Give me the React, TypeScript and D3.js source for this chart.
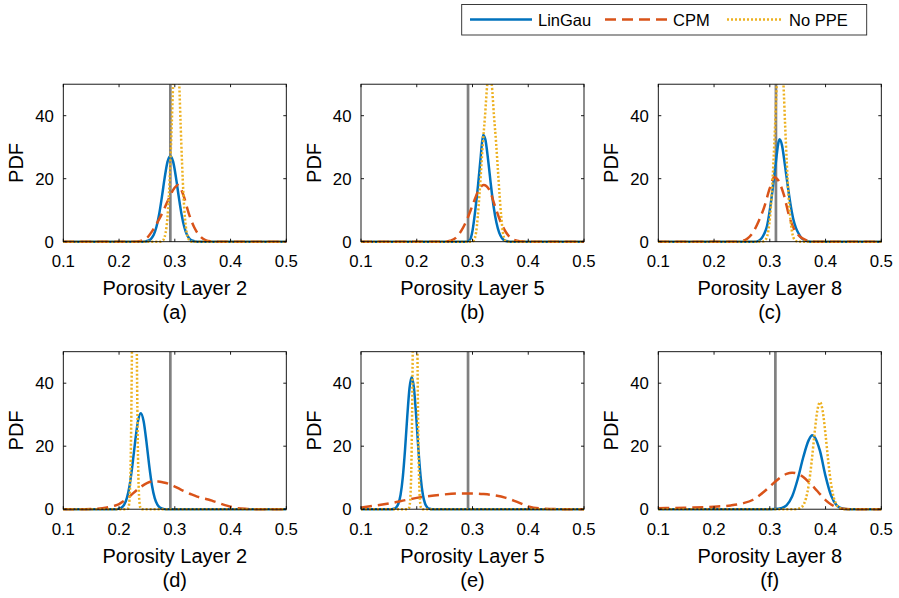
import React from "react";
import * as d3 from "d3";

type Pt = [number, number];

// series names, panel labels, ticks
const seriesNames = ["LinGau", "CPM", "No PPE"];
const seriesColors = ["#0072BD", "#D95319", "#EDB120"];
const panelTags = ["(a)", "(b)", "(c)", "(d)", "(e)", "(f)"];
const layerLabels = [
  "Porosity Layer 2",
  "Porosity Layer 5",
  "Porosity Layer 8",
  "Porosity Layer 2",
  "Porosity Layer 5",
  "Porosity Layer 8",
];
const truthValues = [0.292, 0.292, 0.311, 0.292, 0.292, 0.31];
const xTicks = [0.1, 0.2, 0.3, 0.4, 0.5];
const yTicks = [0, 20, 40];

// (a)
const linGauA: Pt[] = [[0.1, 0], [0.24, 0], [0.247, 0.09], [0.252, 0.3], [0.257, 0.85], [0.262, 2.1], [0.267, 4.65], [0.272, 8.8], [0.277, 14.4], [0.282, 20.5], [0.287, 25.4], [0.292, 27.2], [0.297, 25.4], [0.302, 20.5], [0.307, 14.4], [0.312, 8.8], [0.317, 4.65], [0.322, 2.1], [0.327, 0.85], [0.332, 0.3], [0.337, 0.09], [0.344, 0], [0.5, 0]];
const cpmA: Pt[] = [[0.1, 0], [0.23, 0], [0.24, 0.3], [0.25, 1.2], [0.26, 3.5], [0.27, 6.5], [0.28, 10], [0.29, 14], [0.3, 17.2], [0.306, 18], [0.315, 15], [0.325, 9], [0.335, 4.5], [0.345, 1.8], [0.355, 0.5], [0.365, 0.1], [0.375, 0], [0.5, 0]];
const noPpeA: Pt[] = [[0.1, 0], [0.275, 0], [0.2775, 0.2], [0.2805, 0.9], [0.2835, 2.8], [0.2865, 7], [0.2895, 15], [0.292, 25], [0.2945, 37], [0.297, 50], [0.2995, 59], [0.3025, 64], [0.3055, 59], [0.308, 50], [0.3105, 37], [0.313, 25], [0.3155, 15], [0.3185, 7], [0.3215, 2.8], [0.3245, 0.9], [0.3275, 0.2], [0.33, 0], [0.5, 0]];

// (b)
const linGauB: Pt[] = [[0.1, 0], [0.288, 0], [0.295, 0.5], [0.3, 3.5], [0.305, 10], [0.31, 18], [0.315, 27.5], [0.319, 33.9], [0.323, 32.5], [0.328, 26], [0.333, 18], [0.338, 11], [0.343, 6], [0.348, 2.8], [0.353, 1.1], [0.36, 0.2], [0.37, 0], [0.5, 0]];
const cpmB: Pt[] = [[0.1, 0], [0.25, 0], [0.26, 0.3], [0.27, 1.2], [0.28, 3.5], [0.29, 7], [0.3, 11.5], [0.31, 16], [0.32, 18], [0.33, 16.5], [0.34, 11.5], [0.35, 6.5], [0.36, 3], [0.37, 1], [0.38, 0.3], [0.39, 0.05], [0.4, 0], [0.5, 0]];
const noPpeB: Pt[] = [[0.1, 0], [0.298, 0], [0.3005, 0.1], [0.3035, 0.8], [0.3065, 3], [0.3095, 8], [0.3125, 15], [0.3155, 23], [0.3185, 31], [0.3225, 40], [0.3265, 50], [0.3305, 54], [0.3345, 50], [0.3385, 40], [0.3425, 31], [0.3455, 23], [0.3485, 15], [0.3515, 8], [0.3545, 3], [0.3575, 0.8], [0.3605, 0.1], [0.363, 0], [0.5, 0]];

// (c)
const linGauC: Pt[] = [[0.1, 0], [0.275, 0], [0.28, 0.3], [0.285, 1], [0.29, 2.5], [0.295, 5], [0.3, 10], [0.305, 16.5], [0.31, 24], [0.3175, 32.5], [0.322, 30.5], [0.327, 24.5], [0.332, 18], [0.337, 12], [0.342, 7.3], [0.347, 4.3], [0.352, 2.5], [0.357, 1.1], [0.365, 0.3], [0.375, 0], [0.5, 0]];
const cpmC: Pt[] = [[0.1, 0], [0.24, 0], [0.25, 0.2], [0.26, 1], [0.27, 3], [0.28, 6.5], [0.29, 11], [0.3, 17], [0.308, 20.5], [0.315, 19.5], [0.325, 15], [0.335, 8], [0.345, 3.5], [0.355, 1.5], [0.365, 0.5], [0.375, 0.1], [0.385, 0], [0.5, 0]];
const noPpeC: Pt[] = [[0.1, 0], [0.286, 0], [0.2885, 0.1], [0.2915, 0.4], [0.2945, 1.3], [0.2975, 3.5], [0.3005, 8], [0.3035, 15], [0.3065, 25], [0.3095, 37], [0.3125, 50], [0.3155, 59], [0.3185, 63], [0.3215, 59], [0.3245, 50], [0.3275, 37], [0.3305, 25], [0.3335, 15], [0.3365, 8], [0.3395, 3.5], [0.3425, 1.3], [0.3455, 0.4], [0.3485, 0.1], [0.351, 0], [0.5, 0]];

// (d)
const linGauD: Pt[] = [[0.1, 0], [0.195, 0], [0.199, 0.12], [0.204, 0.43], [0.209, 1.34], [0.214, 3.5], [0.219, 7.6], [0.224, 14], [0.229, 21.6], [0.234, 28], [0.239, 30.5], [0.244, 28], [0.249, 21.6], [0.254, 14], [0.259, 7.6], [0.264, 3.5], [0.269, 1.34], [0.274, 0.43], [0.279, 0.12], [0.283, 0], [0.5, 0]];
const cpmD: Pt[] = [[0.1, 0], [0.14, 0], [0.15, 0.05], [0.17, 0.3], [0.19, 1], [0.2, 1.6], [0.21, 2.8], [0.22, 4.2], [0.23, 5.8], [0.24, 7.2], [0.25, 8.3], [0.26, 8.8], [0.27, 8.8], [0.28, 8.5], [0.29, 8], [0.3, 7.2], [0.31, 6.3], [0.32, 5.5], [0.33, 4.7], [0.34, 4], [0.35, 3.5], [0.36, 3.1], [0.37, 2.5], [0.38, 1.9], [0.39, 1.3], [0.4, 0.8], [0.41, 0.4], [0.43, 0.1], [0.45, 0], [0.5, 0]];
const noPpeD: Pt[] = [[0.1, 0], [0.213, 0], [0.215, 0.07], [0.2165, 0.35], [0.218, 1.6], [0.2195, 5.7], [0.221, 16.5], [0.2225, 38.4], [0.224, 71.5], [0.2255, 107], [0.2275, 130], [0.2295, 107], [0.231, 71.5], [0.2325, 38.4], [0.234, 16.5], [0.2355, 5.7], [0.237, 1.6], [0.2385, 0.35], [0.24, 0.07], [0.242, 0], [0.5, 0]];

// (e)
const linGauE: Pt[] = [[0.1, 0], [0.155, 0], [0.159, 0.14], [0.163, 0.55], [0.167, 1.73], [0.171, 4.6], [0.175, 10.2], [0.179, 18.9], [0.183, 29.5], [0.187, 38.4], [0.191, 42], [0.195, 38.4], [0.199, 29.5], [0.203, 18.9], [0.207, 10.2], [0.211, 4.6], [0.215, 1.73], [0.219, 0.55], [0.223, 0.14], [0.227, 0], [0.5, 0]];
const cpmE: Pt[] = [[0.1, 0.5], [0.12, 1], [0.15, 1.8], [0.18, 2.9], [0.2, 3.6], [0.22, 4.1], [0.25, 4.7], [0.28, 5], [0.3, 5], [0.32, 4.8], [0.34, 4.4], [0.36, 3.6], [0.38, 2.3], [0.4, 0.9], [0.42, 0.25], [0.45, 0.03], [0.47, 0], [0.5, 0]];
const noPpeE: Pt[] = [[0.1, 0], [0.183, 0], [0.1845, 0.06], [0.186, 0.32], [0.1875, 1.5], [0.189, 5.3], [0.1905, 15.2], [0.192, 35.4], [0.1935, 66], [0.195, 98.8], [0.197, 120], [0.199, 98.8], [0.2005, 66], [0.202, 35.4], [0.2035, 15.2], [0.205, 5.3], [0.2065, 1.5], [0.208, 0.32], [0.2095, 0.06], [0.211, 0], [0.5, 0]];

// (f)
const linGauF: Pt[] = [[0.1, 0], [0.3, 0], [0.31, 0.05], [0.32, 0.3], [0.33, 1.2], [0.34, 4], [0.35, 9.5], [0.36, 16.5], [0.37, 22], [0.376, 23.5], [0.38, 23], [0.39, 18.5], [0.4, 10.5], [0.41, 4.3], [0.42, 1.2], [0.43, 0.2], [0.44, 0], [0.5, 0]];
const cpmF: Pt[] = [[0.1, 0.3], [0.15, 0.5], [0.2, 0.8], [0.23, 1.2], [0.25, 1.8], [0.27, 3], [0.28, 4.2], [0.29, 5.6], [0.3, 7.2], [0.31, 8.8], [0.32, 10.2], [0.33, 11.2], [0.34, 11.6], [0.35, 11.3], [0.36, 10.2], [0.37, 8.6], [0.38, 6.8], [0.39, 4.8], [0.4, 2.9], [0.41, 1.5], [0.42, 0.6], [0.43, 0.15], [0.45, 0], [0.5, 0]];
const noPpeF: Pt[] = [[0.1, 0], [0.345, 0], [0.35, 0.1], [0.355, 0.39], [0.36, 1.3], [0.365, 3.5], [0.37, 7.9], [0.375, 15], [0.38, 23.6], [0.385, 31], [0.39, 34], [0.395, 31], [0.4, 23.6], [0.405, 15], [0.41, 7.9], [0.415, 3.5], [0.42, 1.3], [0.425, 0.39], [0.43, 0.1], [0.435, 0], [0.5, 0]];

const panelSeries: Pt[][][] = [
  [linGauA, cpmA, noPpeA],
  [linGauB, cpmB, noPpeB],
  [linGauC, cpmC, noPpeC],
  [linGauD, cpmD, noPpeD],
  [linGauE, cpmE, noPpeE],
  [linGauF, cpmF, noPpeF],
];

const W = 899;
const H = 598;
const colLeft = [63.3, 361, 658.3];
const rowTop = [84.2, 351.7];
const plotW = 223;
const plotH = 157.5;
const font = "'Liberation Sans', Arial, Helvetica, sans-serif";
const dashes = [undefined, "11,6", "2,2"];
const lw = 2.5;
const tickSize = 16.8;
const labelSize = 20;

function Panel({ i }: { i: number }) {
  const left = colLeft[i % 3];
  const top = rowTop[Math.floor(i / 3)];
  const x = d3.scaleLinear().domain([0.1, 0.5]).range([0, plotW]);
  const y = d3.scaleLinear().domain([0, 50]).range([plotH, 0]);
  const line = d3
    .line<Pt>()
    .x((d) => x(d[0]))
    .y((d) => y(d[1]))
    .curve(d3.curveMonotoneX);
  const clipId = "clip" + i;

  return (
    <g transform={`translate(${left},${top})`}>
      <defs>
        <clipPath id={clipId}>
          <rect x={-4} y={0} width={plotW + 8} height={plotH + 6} />
        </clipPath>
      </defs>
      <g clipPath={`url(#${clipId})`}>
        <line
          x1={x(truthValues[i])}
          x2={x(truthValues[i])}
          y1={y(0)}
          y2={y(50)}
          stroke="#808080"
          strokeWidth={2.7}
        />
        {panelSeries[i].map((s, k) => (
          <path
            key={k}
            d={line(s) || ""}
            fill="none"
            stroke={seriesColors[k]}
            strokeWidth={lw}
            strokeDasharray={dashes[k]}
          />
        ))}
      </g>
      <rect x={0} y={0} width={plotW} height={plotH} fill="none" stroke="#000" strokeWidth={0.9} />
      {xTicks.map((t) => (
        <g key={"x" + t}>
          <line x1={x(t)} x2={x(t)} y1={plotH} y2={plotH - 3} stroke="#000" strokeWidth={0.9} />
          <line x1={x(t)} x2={x(t)} y1={0} y2={3} stroke="#000" strokeWidth={0.9} />
          <text x={x(t)} y={plotH + 25.5} textAnchor="middle" fontSize={tickSize} fontFamily={font} fill="#000">
            {d3.format(".1f")(t)}
          </text>
        </g>
      ))}
      {yTicks.map((t) => (
        <g key={"y" + t}>
          <line x1={0} x2={3} y1={y(t)} y2={y(t)} stroke="#000" strokeWidth={0.9} />
          <line x1={plotW} x2={plotW - 3} y1={y(t)} y2={y(t)} stroke="#000" strokeWidth={0.9} />
          <text x={-9.5} y={y(t) + 6} textAnchor="end" fontSize={tickSize} fontFamily={font} fill="#000">
            {t}
          </text>
        </g>
      ))}
      <text x={plotW / 2} y={plotH + 53.5} textAnchor="middle" fontSize={labelSize} fontFamily={font} fill="#000">
        {layerLabels[i]}
      </text>
      <text x={plotW / 2} y={plotH + 77.5} textAnchor="middle" fontSize={labelSize} fontFamily={font} fill="#000">
        {panelTags[i]}
      </text>
      <text
        transform={`translate(-40,${plotH / 2}) rotate(-90)`}
        textAnchor="middle"
        fontSize={labelSize}
        fontFamily={font}
        fill="#000"
      >
        PDF
      </text>
    </g>
  );
}

function Legend() {
  const lineStarts = [470, 605, 727];
  const lineEnds = [532, 667, 783];
  const textStarts = [538, 673, 789];
  return (
    <g>
      <rect x={461.7} y={4.5} width={405} height={30.5} fill="#fff" stroke="#262626" strokeWidth={0.9} />
      {seriesNames.map((n, k) => (
        <g key={n}>
          <line
            x1={lineStarts[k]}
            x2={lineEnds[k]}
            y1={19.5}
            y2={19.5}
            stroke={seriesColors[k]}
            strokeWidth={lw}
            strokeDasharray={dashes[k]}
          />
          <text x={textStarts[k]} y={26} fontSize={16.5} fontFamily={font} fill="#000">
            {n}
          </text>
        </g>
      ))}
    </g>
  );
}

export default function App() {
  return (
    <svg
      width={W}
      height={H}
      style={{ position: "absolute", left: 0, top: 0, background: "#fff" }}
    >
      <rect width={W} height={H} fill="#fff" />
      {panelTags.map((_, i) => (
        <Panel key={i} i={i} />
      ))}
      <Legend />
    </svg>
  );
}
